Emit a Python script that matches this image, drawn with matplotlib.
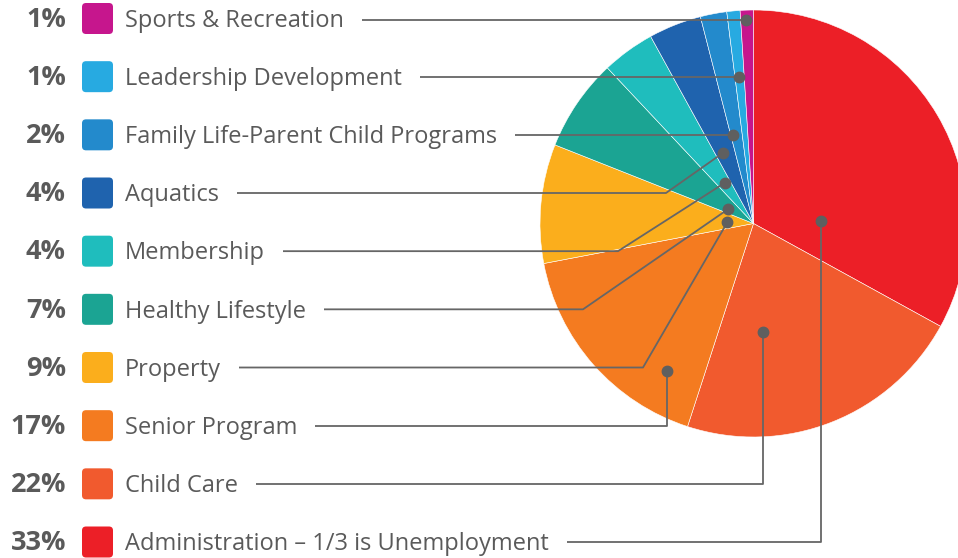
import numpy as np
import matplotlib
matplotlib.use("Agg")
import matplotlib.pyplot as plt
from matplotlib.patches import FancyBboxPatch

# -----------------------------
# datos
# -----------------------------
categorias = ["Administration – 1/3 is Unemployment", "Child Care", "Senior Program",
              "Property", "Healthy Lifestyle", "Membership", "Aquatics",
              "Family Life-Parent Child Programs", "Leadership Development",
              "Sports & Recreation"]
porcentajes = [33, 22, 17, 9, 7, 4, 4, 2, 1, 1]
colores = ["#EC1F27", "#F15A2E", "#F47B20", "#FBAE1C", "#1BA493",
           "#1FBDBD", "#1F63AE", "#238ACC", "#27AAE1", "#C6168D"]

# puntos de las lineas guia (pixeles): esquina x, punto x, punto y
esquina_x = [820.7, 763.3, 667, 643, 583, 618, 666, None, None, None]
punto_x = [820.7, 763.3, 667, 727.3, 728.3, 725, 723.5, 733.5, 739, 746]
punto_y = [221, 331.7, 371.3, 222.3, 209, 182.7, 152.5, 134.5, 76.5, 19.5]

W, H = 958, 558
gris = "#5a5a5a"
fs = 17
fuente = "Open Sans"

fig = plt.figure(figsize=(W / 100, H / 100), dpi=100)
ax = fig.add_axes([0, 0, 1, 1])

ax.pie(porcentajes, colors=colores, startangle=-90, counterclock=True,
       center=(753.5, 223.5), radius=213.5,
       wedgeprops=dict(edgecolor="white", linewidth=0.4, alpha=1))

ax.set_xlim(0, W)
ax.set_ylim(H, 0)
ax.set_aspect("equal")
ax.axis("off")

filas = np.linspace(18.5, 542, 10)
em = 16 * 100 / 72
fig.canvas.draw()
renderer = fig.canvas.get_renderer()

for i, (cat, p, c) in enumerate(zip(categorias, porcentajes, colores)):
    y = filas[9 - i]
    base = y + 0.37 * em
    ax.text(66, base, f"{p}%", ha="right", va="baseline", fontsize=19.5,
            fontweight="bold", color=gris, family=fuente)
    ax.add_patch(FancyBboxPatch((83.5, y - 14), 28, 28,
                                boxstyle="round,pad=1.5,rounding_size=4",
                                facecolor=c, edgecolor="none"))
    t = ax.text(125, base, cat, ha="left", va="baseline", fontsize=fs,
                color=gris, family=fuente)
    bb = t.get_window_extent(renderer)
    x0 = bb.x1 + 18
    if esquina_x[i] is None:
        xs = [x0, punto_x[i]]
        ys = [punto_y[i], punto_y[i]]
    else:
        xs = [x0, esquina_x[i], punto_x[i]]
        ys = [y, y, punto_y[i]]
    ax.plot(xs, ys, color="#666666", lw=1.3, solid_capstyle="butt", zorder=3)
    ax.plot(punto_x[i], punto_y[i], "o", color="#5f5f5f", ms=7.5, zorder=4)

fig.savefig("out.png", dpi=100)
